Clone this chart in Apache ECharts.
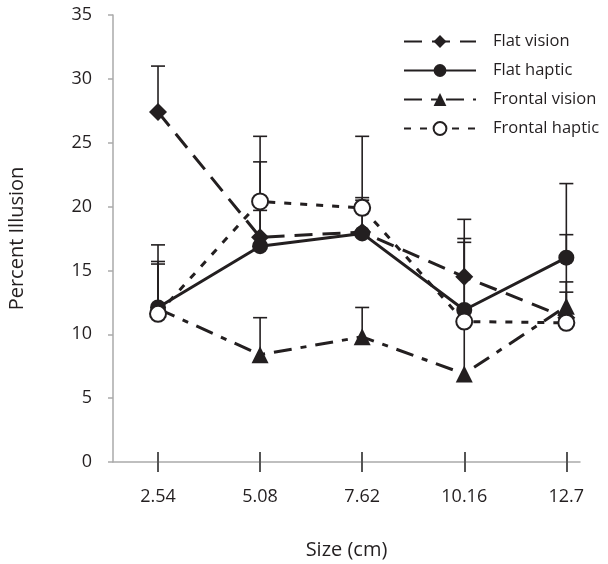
<!DOCTYPE html>
<html>
<head>
  <meta charset="utf-8">
  <title>Percent Illusion by size</title>
  <style>
    html, body { margin: 0; padding: 0; background: #fff; }
    #main { width: 608px; height: 564px; }
  </style>
</head>
<body>
  <div id="main"></div>
  <script src="https://cdn.jsdelivr.net/npm/echarts@6/dist/echarts.min.js"></script>
  <script>
    // sizes in cm
    const sizes = [2.54, 5.08, 7.62, 10.16, 12.7];
    const yTicks = [0, 5, 10, 15, 20, 25, 30, 35];

    // means
    const flatVision = [27.4, 17.6, 18.0, 14.5, 11.3];
    const flatHaptic = [12.1, 16.9, 17.9, 11.9, 16.0];
    const frontalVision = [12.0, 8.4, 9.8, 6.9, 12.2];
    const frontalHaptic = [11.6, 20.4, 19.9, 11.0, 10.9];

    // top of the error bars
    const flatVisionTop = [31.0, 23.5, 20.7, 19.0, 17.8];
    const flatHapticTop = [17.0, 19.7, 20.5, 17.5, 21.8];
    const frontalVisionTop = [15.7, 11.3, 12.1, 11.0, 13.3];
    const frontalHapticTop = [15.5, 25.5, 25.5, 17.2, 14.1];

    const ink = '#231f20';
    const font = '"Open Sans", "Noto Sans", sans-serif';

    function pairs(ys) {
      return sizes.map((x, i) => [x, ys[i]]);
    }
    function errData(ys, tops) {
      return sizes.map((x, i) => [x, ys[i], tops[i]]);
    }

    function errorBars(name, ys, tops) {
      return {
        name: name + ' err',
        type: 'custom',
        z: 1,
        silent: true,
        data: errData(ys, tops),
        renderItem(params, api) {
          const p0 = api.coord([api.value(0), api.value(1)]);
          const p1 = api.coord([api.value(0), api.value(2)]);
          const st = { stroke: ink, lineWidth: 1.6 };
          return {
            type: 'group',
            children: [
              { type: 'line', shape: { x1: p0[0], y1: p0[1], x2: p1[0], y2: p1[1] }, style: st },
              { type: 'line', shape: { x1: p1[0] - 7, y1: p1[1], x2: p1[0] + 7, y2: p1[1] }, style: st }
            ]
          };
        }
      };
    }

    function lineSeries(name, ys, symbol, dash, fill) {
      return {
        name: name,
        type: 'line',
        z: 3,
        data: pairs(ys),
        symbol: symbol,
        symbolSize: symbol === 'triangle' ? 17 : (symbol === 'diamond' ? 18 : 16),
        showAllSymbol: true,
        lineStyle: { color: ink, width: 3, type: dash },
        itemStyle: { color: fill, borderColor: ink, borderWidth: fill === '#fff' ? 2 : 0 },
        emphasis: { disabled: true }
      };
    }

    const xAxisBase = {
      type: 'value',
      min: 1.42,
      max: 13.04,
      splitLine: { show: false },
      position: 'bottom'
    };

    const option = {
      animation: false,
      backgroundColor: '#fff',
      grid: { left: 113, right: 28, top: 15, bottom: 102, outerBoundsMode: 'none', containLabel: false },
      legend: {
        orient: 'vertical',
        left: 398,
        top: 28,
        itemWidth: 72,
        itemHeight: 16,
        itemGap: 12,
        data: ['Flat vision', 'Flat haptic', 'Frontal vision', 'Frontal haptic'],
        textStyle: { color: ink, fontSize: 16.5, fontFamily: font, padding: [0, 0, 0, 12] }
      },
      xAxis: [
        Object.assign({}, xAxisBase, {
          name: 'Size (cm)',
          nameLocation: 'middle',
          nameGap: 78,
          nameTextStyle: { color: ink, fontSize: 20, fontFamily: font },
          axisLine: { lineStyle: { color: '#aaa', width: 1.5 } },
          axisTick: { show: true, length: 10, customValues: sizes, lineStyle: { color: '#555', width: 2 } },
          axisLabel: { customValues: sizes, margin: 26, color: ink, fontSize: 18, fontFamily: font,
            formatter: v => String(v) }
        }),
        Object.assign({}, xAxisBase, {
          axisLine: { show: false },
          axisTick: { show: true, inside: true, length: 10, customValues: sizes, lineStyle: { color: '#555', width: 2 } },
          axisLabel: { show: false }
        })
      ],
      yAxis: {
        type: 'value',
        min: yTicks[0],
        max: yTicks[yTicks.length - 1],
        interval: 5,
        name: 'Percent Illusion',
        nameLocation: 'middle',
        nameGap: 86,
        nameTextStyle: { color: ink, fontSize: 20, fontFamily: font },
        splitLine: { show: false },
        axisLine: { show: true, lineStyle: { color: '#aaa', width: 1.5 } },
        axisTick: { show: true, length: 5, lineStyle: { color: '#aaa', width: 1.5 } },
        axisLabel: { margin: 21, color: ink, fontSize: 18, fontFamily: font }
      },
      series: [
        errorBars('Flat vision', flatVision, flatVisionTop),
        errorBars('Flat haptic', flatHaptic, flatHapticTop),
        errorBars('Frontal vision', frontalVision, frontalVisionTop),
        errorBars('Frontal haptic', frontalHaptic, frontalHapticTop),
        lineSeries('Flat vision', flatVision, 'diamond', [18, 10], ink),
        lineSeries('Flat haptic', flatHaptic, 'circle', 'solid', ink),
        lineSeries('Frontal vision', frontalVision, 'triangle', [18, 9, 6, 9], ink),
        lineSeries('Frontal haptic', frontalHaptic, 'circle', [7, 9], '#fff')
      ]
    };

    const chart = echarts.init(document.getElementById('main'), null, { renderer: 'canvas' });
    chart.setOption(option);
  </script>
</body>
</html>
